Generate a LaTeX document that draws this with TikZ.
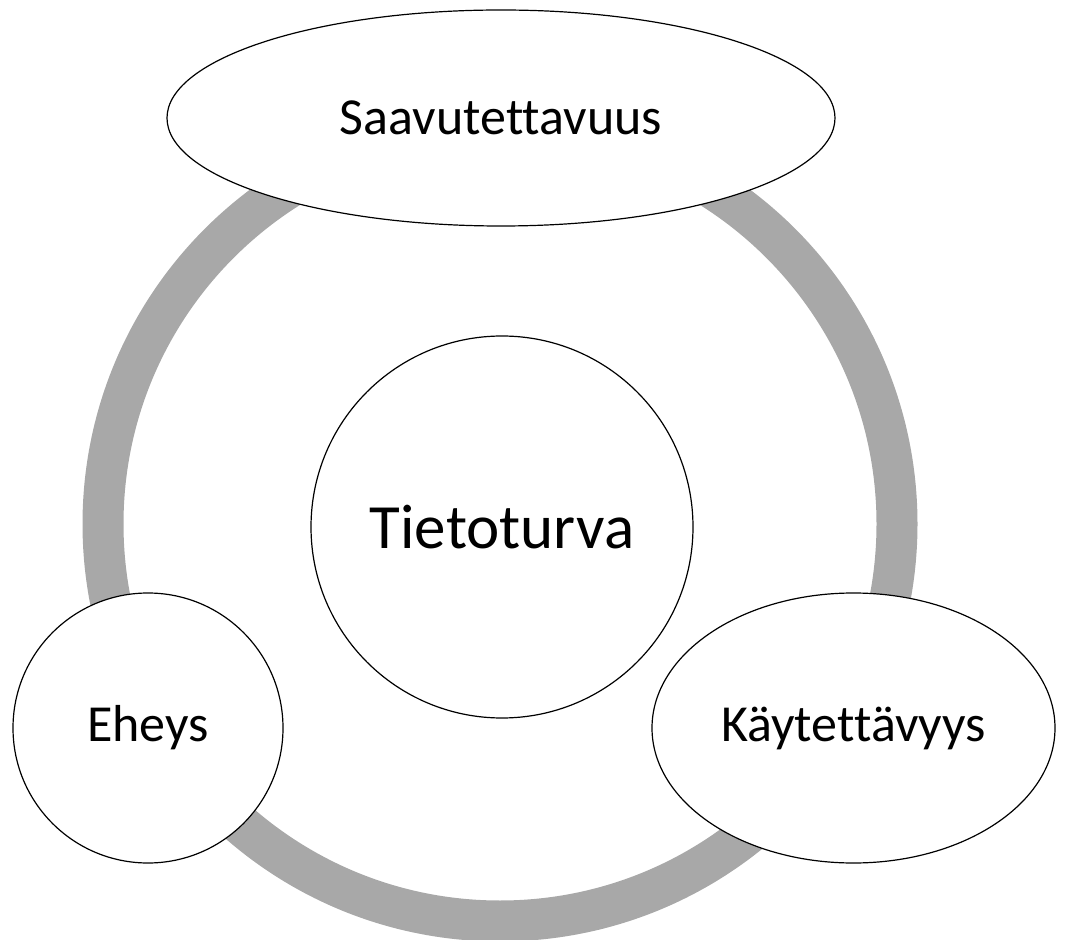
\documentclass[tikz,border=0pt]{standalone}
\usepackage{fontspec}
\setmainfont{Carlito}[Ligatures={NoCommon}]
\usetikzlibrary{shapes.geometric}
\definecolor{ringgray}{RGB}{168,168,168}

\begin{document}
\begin{tikzpicture}[x=0.5pt,y=-0.5pt,
	ring/.style={draw=ringgray,line width=20.5pt},
	part/.style={draw=black,fill=white,line width=0.6pt,inner sep=0pt,font=\fontsize{26}{30}\selectfont},
	core/.style={part,circle,minimum size=191pt,font=\fontsize{31.5}{36}\selectfont}]

\useasboundingbox (0,0) rectangle (1065,940);

%gray ring behind everything
\coordinate (mid) at (500,524);
\draw[ring] (mid) circle[radius=198.5pt];

%center and the three parts
\node[core](tieto) at (502,527){Tietoturva};
\node[part,ellipse,minimum width=334pt,minimum height=108pt](saav) at (501,118){Saavutettavuus};
\node[part,circle,minimum size=135pt](eheys) at (148,728){Eheys};
\node[part,ellipse,minimum width=201.5pt,minimum height=135pt](kayt) at (853.5,728){Käytettävyys};
\end{tikzpicture}
\end{document}
